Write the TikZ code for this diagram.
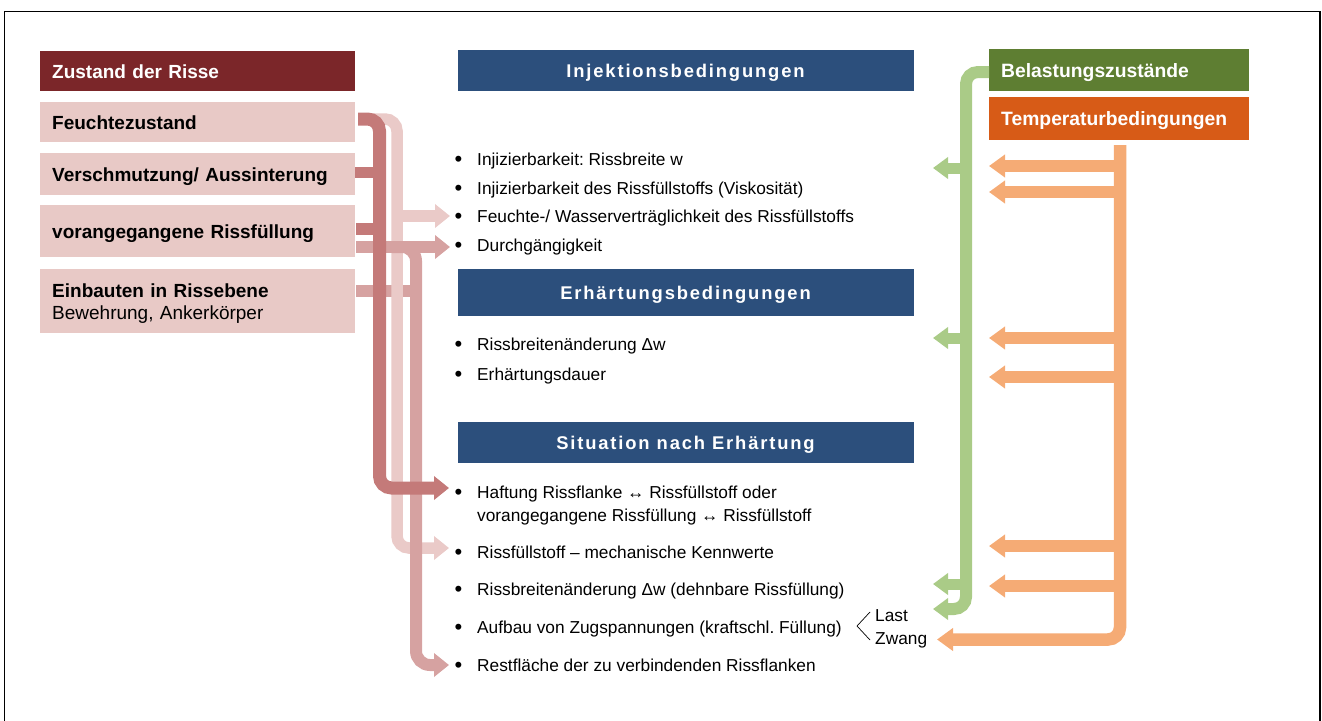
\documentclass[tikz,border=0pt]{standalone}
\usepackage{fontspec}
\setmainfont{Liberation Sans}
\usetikzlibrary{arrows.meta}
\frenchspacing
\definecolor{zdark}{RGB}{123,38,41}
\definecolor{pinkbox}{RGB}{232,201,198}
\definecolor{blueh}{RGB}{44,79,124}
\definecolor{gbox}{RGB}{94,126,50}
\definecolor{obox}{RGB}{215,91,23}
\definecolor{grib}{RGB}{170,203,135}
\definecolor{orib}{RGB}{245,171,117}
\definecolor{drib}{RGB}{196,122,121}
\definecolor{lrib}{RGB}{234,202,200}
\definecolor{mrib}{RGB}{214,162,161}
\newcommand\mybul{\makebox[22pt][l]{\hspace*{-0.6pt}\raisebox{-1.6pt}{\fontsize{22}{22}\selectfont\textbullet}}}
\begin{document}
\frenchspacing
\begin{tikzpicture}[x=1pt,y=-1pt,
 lbox/.style={fill=pinkbox, anchor=north west, minimum width=315pt, text width=291pt, inner xsep=12pt, inner ysep=0pt, align=left, font=\fontsize{19}{22}\selectfont\bfseries, text height=13.7pt, text depth=0pt},
 hbar/.style={fill=blueh, text=white, minimum width=456pt, inner sep=0pt, font=\fontsize{18.4}{20}\selectfont\bfseries\addfontfeature{LetterSpace=10}, text height=13.2pt, text depth=0pt},
 rbox/.style={anchor=north west, minimum width=260pt, text width=236pt, inner xsep=12pt, inner ysep=0pt, align=left, text=white, font=\fontsize{19.3}{22}\selectfont\bfseries, text height=13.8pt, text depth=0pt},
 bul/.style={anchor=base west, inner sep=0pt, align=left, font=\fontsize{17.3}{23}\selectfont},
 rib/.style={line width=12pt, rounded corners=12pt},
 tipL/.style={-{Triangle[length=15pt,width=23pt]}},
 tipG/.style={-{Triangle[length=15pt,width=21pt]}},
 tipO/.style={-{Triangle[length=16pt,width=22pt]}},
]
\useasboundingbox (0,0) rectangle (1322,720);
\draw[line width=1.5pt] (4.5,730) -- (4.5,11.5) -- (1319.8,11.5) -- (1319.8,730);

% left boxes
\node[lbox, fill=zdark, text=white, minimum height=40pt] (zust) at (40,51) {Zustand der Risse};
\node[lbox, minimum height=40pt] (feucht) at (40,102) {Feuchtezustand};
\node[lbox, minimum height=42pt] (versch) at (40,153) {Verschmutzung/ Aussinterung};
\node[lbox, minimum height=52pt] (vorang) at (40,205) {vorangegangene Rissfüllung};
\node[lbox, minimum height=64pt, text depth=22pt] (einb) at (40,269) {Einbauten in Rissebene\\{\mdseries Bewehrung, Ankerkörper}};

% header bars
\node[hbar, minimum height=41pt] (inj) at (685.5,70.5) {Injektionsbedingungen};
\node[hbar, minimum height=47pt] (erh) at (685.5,292.5) {Erhärtungsbedingungen};
\node[hbar, minimum height=41pt] (sit) at (685.5,442.5) {Situation nach Erhärtung};

% right boxes
\node[rbox, fill=gbox, minimum height=42pt] (bel) at (989,49) {Belastungszustände};
\node[rbox, fill=obox, minimum height=43pt] (temp) at (989,97) {Temperaturbedingungen};

% bullet texts
\node[bul] (b1) at (455,165.2) {\mybul Injizierbarkeit: Rissbreite w};
\node[bul] (b2) at (455,194.2) {\mybul Injizierbarkeit des Rissfüllstoffs (Viskosität)};
\node[bul] (b3) at (455,222.2) {\mybul Feuchte-/ Wasserverträglichkeit des Rissfüllstoffs};
\node[bul] (b4) at (455,251.2) {\mybul Durchgängigkeit};
\node[bul] (e1) at (455,350.2) {\mybul Rissbreitenänderung Δw};
\node[bul] (e2) at (455,380.2) {\mybul Erhärtungsdauer};
\node[bul] (s1) at (455,521.2) {\mybul Haftung Rissflanke ↔ Rissfüllstoff oder\\\hspace*{22pt}vorangegangene Rissfüllung ↔ Rissfüllstoff};
\node[bul] (s2) at (455,558.2) {\mybul Rissfüllstoff – mechanische Kennwerte};
\node[bul] (s3) at (455,595.2) {\mybul Rissbreitenänderung Δw (dehnbare Rissfüllung)};
\node[bul] (s4) at (455,633.2) {\mybul Aufbau von Zugspannungen (kraftschl. Füllung)};
\node[bul] (s5) at (455,671.2) {\mybul Restfläche der zu verbindenden Rissflanken};
\node[bul] (last) at (875,621.2) {Last};
\node[bul] (zwang) at (875,644.2) {Zwang};
\coordinate (lu) at (870,612);
\coordinate (lm) at (857,626);
\coordinate (ll) at (870,640);
\draw[line width=0.7pt] (lu) -- (lm) -- (ll);

% ---- left ribbons
\draw[mrib, line width=12pt] (356,291) -- (410,291);
% light
\draw[lrib, rib, line width=11.5pt, tipL] (372,119) -- (397,119) -- (397,548) -- (449,548);
\draw[lrib, line width=11.5pt, tipL] (397,216) -- (450,216);
% medium
\draw[mrib, line width=12pt, tipL] (356,247) -- (450,247);
\draw[mrib, rib, rounded corners=14pt, tipL] (392,247) -- (416,247) -- (416,665) -- (449,665);
% dark
\draw[drib, line width=11pt] (355,172) -- (379,172);
\draw[drib, line width=12pt] (356,229) -- (379,229);
\draw[drib, rib, line width=13pt, tipL] (358,119) -- (379.5,119) -- (379.5,488) -- (449,488);

% ---- green ribbons
\draw[grib, rib, tipG] (989,72) -- (966,72) -- (966,609) -- (933,609);
\draw[grib, line width=11pt, tipG] (966,168) -- (933,168);
\draw[grib, line width=11pt, tipG] (966,338) -- (933,338);
\draw[grib, line width=11pt, tipG] (966,584) -- (933,584);

% ---- orange ribbons
\draw[orib, rib, line width=12.5pt, tipO] (1120,145) -- (1120,639.5) -- (937,639.5);
\foreach \yy in {166,192,338,377,546,586}{
  \draw[orib, line width=12pt, tipO] (1120,\yy) -- (989,\yy);
}
\end{tikzpicture}
\end{document}
